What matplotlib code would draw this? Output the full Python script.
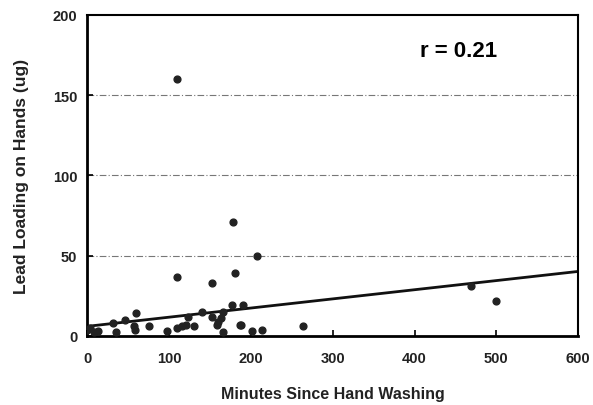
import matplotlib
matplotlib.use("Agg")
import matplotlib.pyplot as plt

# --- dati ---
minuti = [110, 178, 207, 110, 152, 181, 469, 499, 264,
          60, 46, 32, 4, 13, 59, 76, 98, 110, 116, 121, 130, 123,
          140, 153, 163, 159, 166, 177, 191, 188, 214, 202, 0, 8, 35,
          57, 166, 160, 187]
piombo = [160, 71, 50, 37, 33, 39, 31, 22, 6,
          14, 10, 8, 5, 3, 4, 6, 3, 5, 6, 7, 6, 12,
          15, 12, 11, 7, 2.5, 19, 19, 7, 4, 3, 4, 2.5, 2.5,
          6, 15, 9, 7]

# retta di regressione (intercetta, pendenza)
intercetta = 6.0
pendenza = 0.057
x_retta = [0, 600]
testo_r = "r = 0.21"

plt.rcParams['font.family'] = ['Liberation Sans', 'DejaVu Sans']

fig = plt.figure(figsize=(5.93, 4.06), dpi=100)
ax = fig.add_axes([0.147, 0.170, 0.828, 0.791])

for y in [50, 100, 150]:
    ax.axhline(y, color='#777777', linewidth=0.8, linestyle='-.', dashes=(6, 2, 1, 2), zorder=1)

ax.scatter(minuti, piombo, s=24, color='#222222', zorder=3)
ax.plot(x_retta, [intercetta + pendenza * x for x in x_retta], color='#111111', linewidth=2, zorder=2)

ax.set_xlim(0, 600)
ax.set_ylim(0, 200)
ax.set_xticks(range(0, 601, 100))
ax.set_yticks(range(0, 201, 50))
ax.tick_params(direction='in', length=4, width=1.2, labelsize=10.5, labelcolor='#222222')
ax.tick_params(axis='x', pad=11)
ax.tick_params(axis='y', pad=7)
for lab in ax.get_xticklabels() + ax.get_yticklabels():
    lab.set_fontweight('bold')

for lato in ['left', 'bottom']:
    ax.spines[lato].set_linewidth(2)
for lato in ['top', 'right']:
    ax.spines[lato].set_linewidth(1.5)

ax.set_xlabel('Minutes Since Hand Washing', fontsize=11.5, fontweight='bold', labelpad=15, color='#222222')
ax.set_ylabel('Lead Loading on Hands (ug)', fontsize=12.5, fontweight='bold', labelpad=17, color='#222222')

ax.text(407, 178, testo_r, fontsize=16, fontweight='bold', va='center', ha='left')

fig.savefig("out.png", dpi=100)
